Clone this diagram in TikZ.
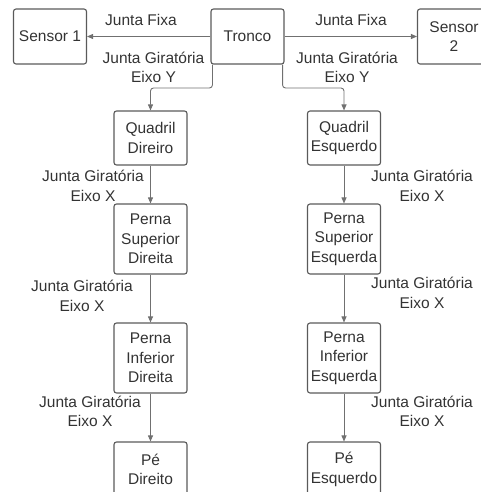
\documentclass[tikz,border=0pt]{standalone}
\usepackage{fontspec}
\setmainfont{Liberation Sans}
\usetikzlibrary{arrows.meta}
\definecolor{boxc}{HTML}{5A5A5A}
\definecolor{linec}{HTML}{707070}
\definecolor{txt}{HTML}{333333}
\tikzset{
  blk/.style={draw=boxc, line width=1.1pt, rounded corners=2.5pt, minimum width=73pt,
    minimum height=55pt, align=center, text=txt, inner sep=1pt,
    font=\fontsize{15.5}{19.5}\selectfont},
  tall/.style={blk, minimum height=70pt},
  lbl/.style={align=center, text=txt, inner sep=0pt, font=\fontsize{15.5}{19.5}\selectfont},
  arr/.style={draw=linec, line width=0.9pt, rounded corners=3pt,
    -{Triangle[length=6pt,width=5pt]}}
}
\begin{document}
\begin{tikzpicture}[x=1pt,y=-1pt]
\useasboundingbox (0,0) rectangle (480,492);
\node[blk] (s1) at (50,36.5) {Sensor 1};
\node[blk] (tr) at (247.5,36.5) {Tronco};
\node[blk] (s2) at (454,36.5) {Sensor\\2};
\node[blk, minimum height=54pt] (qd) at (150.5,138) {Quadril\\Direiro};
\node[blk, minimum height=54pt] (qe) at (344,138) {Quadril\\Esquerdo};
\node[tall] (psd) at (150.5,239) {Perna\\Superior\\Direita};
\node[tall] (pse) at (344,239) {Perna\\Superior\\Esquerda};
\node[tall] (pid) at (150.5,358) {Perna\\Inferior\\Direita};
\node[tall] (pie) at (344,358) {Perna\\Inferior\\Esquerda};
\node[blk] (pd) at (150.5,469.5) {Pé\\Direito};
\node[blk] (pe) at (344,469.5) {Pé\\Esquerdo};
\coordinate (jl) at (150.5,88);
\coordinate (jr) at (344,88);
\draw[arr] (tr.west) -- (s1.east);
\draw[arr] (tr.east) -- (s2.west);
\draw[arr] ([xshift=2pt]tr.south west) |- (jl) -- (qd.north);
\draw[arr] ([xshift=-2pt]tr.south east) |- (jr) -- (qe.north);
\draw[arr] (qd) -- (psd);
\draw[arr] (qe) -- (pse);
\draw[arr] (psd) -- (pid);
\draw[arr] (pse) -- (pie);
\draw[arr] (pid) -- (pd);
\draw[arr] (pie) -- (pe);
\node[lbl] (l1) at (141,20) {Junta Fixa};
\node[lbl] (l2) at (351,20) {Junta Fixa};
\node[lbl] (l3) at (153.5,67.5) {Junta Giratória\\Eixo Y};
\node[lbl] (l4) at (347,67.5) {Junta Giratória\\Eixo Y};
\node[lbl] (l5) at (93,186) {Junta Giratória\\Eixo X};
\node[lbl] (l6) at (422,186) {Junta Giratória\\Eixo X};
\node[lbl] (l7) at (82,296) {Junta Giratória\\Eixo X};
\node[lbl] (l8) at (422,293) {Junta Giratória\\Eixo X};
\node[lbl] (l9) at (90,411.5) {Junta Giratória\\Eixo X};
\node[lbl] (l10) at (422,411.5) {Junta Giratória\\Eixo X};
\end{tikzpicture}
\end{document}
